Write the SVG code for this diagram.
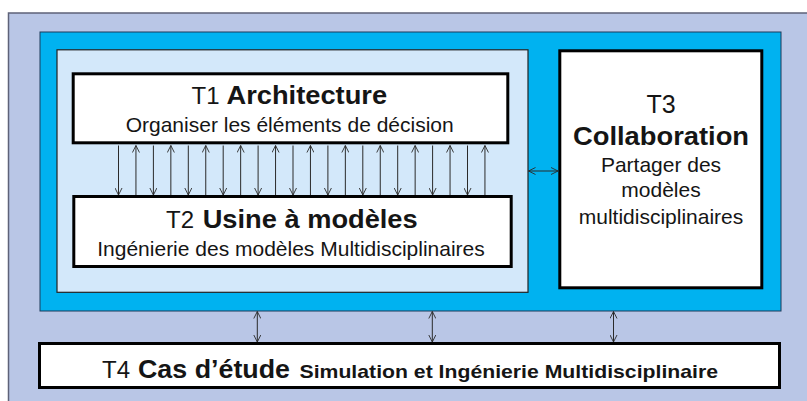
<svg xmlns="http://www.w3.org/2000/svg" width="807" height="401" viewBox="0 0 807 401">
<defs>
<style>
text{font-family:"Liberation Sans",Arial,sans-serif;fill:#151515}
.tr{font-size:24px}
.tb{font-size:25px;font-weight:bold}
.sub{font-size:21px;text-anchor:middle}
.box{fill:#ffffff;stroke:#000000;stroke-width:3}
.d{stroke:#2a2a2a;stroke-width:1;fill:none;marker-end:url(#ah)}
.b{stroke:#2a2a2a;stroke-width:1;fill:none;marker-start:url(#ah);marker-end:url(#ah)}
</style>
<marker id="ah" viewBox="0 0 8 8" refX="7.5" refY="4" markerWidth="8" markerHeight="8" markerUnits="userSpaceOnUse" orient="auto-start-reverse">
<path d="M0.5,0.5 L7.5,4 L0.5,7.5" fill="none" stroke="#2a2a2a" stroke-width="0.9"/>
</marker>
</defs>
<rect width="807" height="401" fill="#ffffff"/>
<g id="frame">
<rect x="8.5" y="13" width="810" height="400" fill="#b9c6e6" stroke="#5e6278" stroke-width="1.5"/>
</g>
<g id="container">
<rect x="40" y="32" width="741" height="279" fill="#00b2f0" stroke="#1c3a5a" stroke-width="1"/>
</g>
<g id="inner">
<rect x="57" y="49.8" width="471" height="242.5" fill="#d3e8fa" stroke="#222222" stroke-width="1.2"/>
</g>
<g id="T1">
<rect class="box" x="73.2" y="73.8" width="434.6" height="69"/>
<text class="tr" x="191.5" y="104">T1</text>
<text class="tb" x="226.5" y="104" textLength="160.6" lengthAdjust="spacingAndGlyphs">Architecture</text>
<text class="sub" x="289.7" y="132">Organiser les éléments de décision</text>
</g>
<g id="T2">
<rect class="box" x="73.8" y="196.5" width="437.4" height="70"/>
<text class="tr" x="166" y="228">T2</text>
<text class="tb" x="202.7" y="228" textLength="215" lengthAdjust="spacingAndGlyphs">Usine à modèles</text>
<text class="sub" x="291" y="256">Ingénierie des modèles Multidisciplinaires</text>
</g>
<g id="T3">
<rect class="box" x="559.8" y="50.8" width="202" height="237"/>
<text class="tr" x="661" y="113" text-anchor="middle" style="font-size:25px">T3</text>
<text class="tb" x="661" y="145" text-anchor="middle" textLength="176" lengthAdjust="spacingAndGlyphs">Collaboration</text>
<text class="sub" x="661" y="172">Partager des</text>
<text class="sub" x="661" y="197">modèles</text>
<text class="sub" x="661" y="224">multidisciplinaires</text>
</g>
<g id="T4">
<rect class="box" x="39.5" y="343.5" width="740" height="44"/>
<text class="tr" x="102" y="378">T4</text>
<text class="tb" x="138" y="378" textLength="152" lengthAdjust="spacingAndGlyphs">Cas d’étude</text>
<text x="299.5" y="378" style="font-size:19px;font-weight:bold" textLength="418.5" lengthAdjust="spacingAndGlyphs">Simulation et Ingénierie Multidisciplinaire</text>
</g>
<g id="connectors">
<line class="d" x1="118.5" y1="145.5" x2="118.5" y2="195"/>
<line class="d" x1="153.4" y1="145.5" x2="153.4" y2="195"/>
<line class="d" x1="188.3" y1="145.5" x2="188.3" y2="195"/>
<line class="d" x1="223.2" y1="145.5" x2="223.2" y2="195"/>
<line class="d" x1="258.1" y1="145.5" x2="258.1" y2="195"/>
<line class="d" x1="293" y1="145.5" x2="293" y2="195"/>
<line class="d" x1="327.9" y1="145.5" x2="327.9" y2="195"/>
<line class="d" x1="362.8" y1="145.5" x2="362.8" y2="195"/>
<line class="d" x1="397.7" y1="145.5" x2="397.7" y2="195"/>
<line class="d" x1="432.6" y1="145.5" x2="432.6" y2="195"/>
<line class="d" x1="467.5" y1="145.5" x2="467.5" y2="195"/>
<line class="d" x1="135.95" y1="195" x2="135.95" y2="145.5"/>
<line class="d" x1="170.85" y1="195" x2="170.85" y2="145.5"/>
<line class="d" x1="205.75" y1="195" x2="205.75" y2="145.5"/>
<line class="d" x1="240.65" y1="195" x2="240.65" y2="145.5"/>
<line class="d" x1="275.55" y1="195" x2="275.55" y2="145.5"/>
<line class="d" x1="310.45" y1="195" x2="310.45" y2="145.5"/>
<line class="d" x1="345.35" y1="195" x2="345.35" y2="145.5"/>
<line class="d" x1="380.25" y1="195" x2="380.25" y2="145.5"/>
<line class="d" x1="415.15" y1="195" x2="415.15" y2="145.5"/>
<line class="d" x1="450.05" y1="195" x2="450.05" y2="145.5"/>
<line class="d" x1="484.95" y1="195" x2="484.95" y2="145.5"/>
<line class="b" x1="528.5" y1="171" x2="558" y2="171"/>
<line class="b" x1="257.3" y1="311.5" x2="257.3" y2="342"/>
<line class="b" x1="432.3" y1="311.5" x2="432.3" y2="342"/>
<line class="b" x1="613.5" y1="311.5" x2="613.5" y2="342"/>
</g>
</svg>
